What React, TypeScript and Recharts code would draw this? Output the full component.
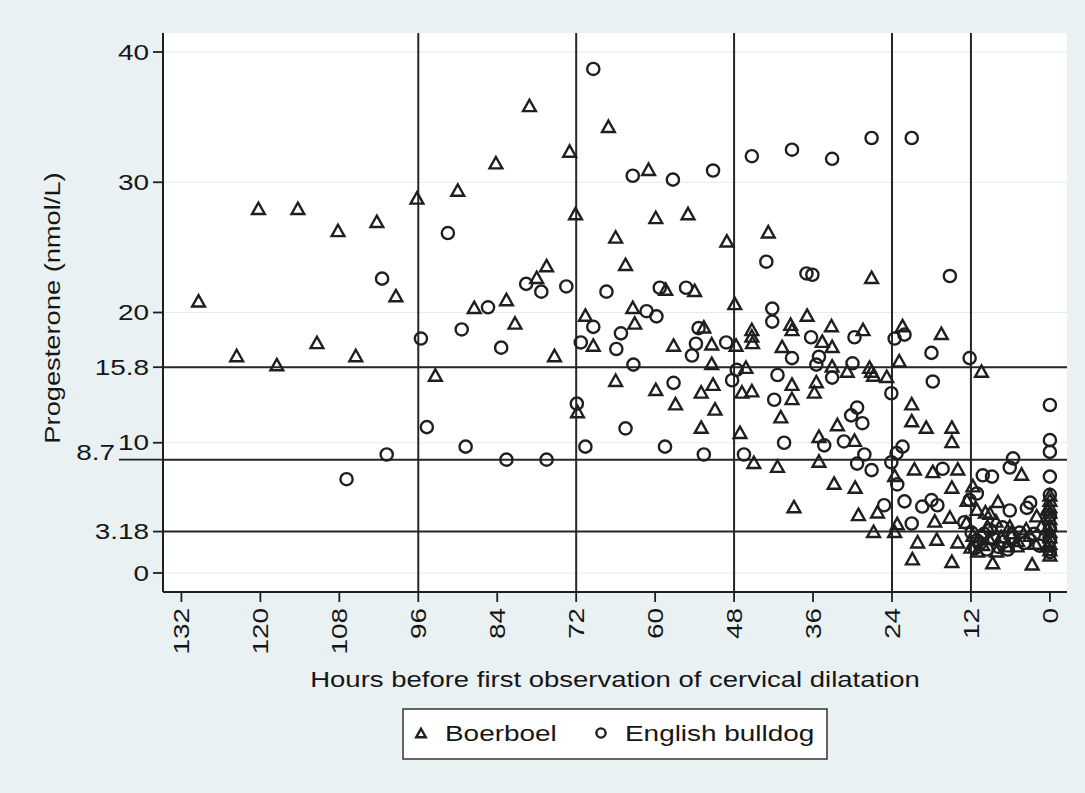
import { ScatterChart, Scatter, XAxis, YAxis, ReferenceLine, CartesianGrid } from 'recharts'

// [hours before dilatation, progesterone nmol/L]
const boerboel: [number, number][] = [
  [129.4, 20.8], [123.6, 16.6], [120.3, 27.9], [117.5, 15.9], [114.3, 27.9], [111.4, 17.6],
  [108.2, 26.2], [105.5, 16.6], [102.3, 26.9], [99.4, 21.2], [96.2, 28.7], [93.4, 15.1],
  [90.0, 29.3], [87.5, 20.3], [84.2, 31.4], [82.6, 20.9], [81.3, 19.1], [79.1, 35.8],
  [78.0, 22.6], [76.5, 23.5], [75.3, 16.6], [73.0, 32.3], [72.1, 27.5], [71.8, 12.3],
  [70.6, 19.7], [69.4, 17.4], [67.1, 34.2], [66.0, 25.7], [66.0, 14.7], [64.5, 23.6],
  [63.4, 20.3], [63.1, 19.1], [61.0, 30.9], [59.9, 27.2], [59.9, 14.0], [58.4, 21.7],
  [57.2, 17.4], [56.9, 12.9], [55.0, 27.5], [54.0, 21.6], [53.0, 13.8], [53.0, 11.1],
  [52.6, 18.8], [51.4, 17.5], [51.4, 16.0], [51.2, 14.4], [50.9, 12.5], [49.1, 25.4],
  [47.9, 20.6], [47.7, 17.4], [47.1, 10.7], [46.8, 13.8], [46.2, 15.7], [45.3, 18.1],
  [45.3, 18.6], [45.2, 17.6], [45.3, 13.9], [45.0, 8.4], [42.8, 26.1], [41.4, 8.1],
  [40.9, 11.9], [40.7, 17.3], [39.2, 18.6], [39.4, 19.0], [39.2, 14.4], [39.2, 13.3],
  [38.9, 5.0], [36.9, 19.7], [35.8, 13.8], [35.5, 14.6], [35.1, 10.4], [35.1, 8.5],
  [34.6, 17.7], [33.2, 18.9], [33.1, 17.3], [33.1, 15.8], [32.8, 6.8], [32.3, 11.3],
  [30.8, 15.4], [29.7, 10.1], [29.6, 6.5], [29.1, 4.4], [28.4, 18.6], [27.1, 22.6],
  [27.1, 15.4], [27.4, 15.7], [26.8, 15.1], [26.8, 3.1], [26.2, 4.6], [24.8, 15.0],
  [23.6, 7.4], [23.6, 3.1], [23.2, 3.7], [22.9, 16.2], [22.4, 18.9], [21.0, 12.9],
  [21.0, 11.6], [20.9, 1.0], [20.6, 7.9], [20.1, 2.3], [18.8, 11.1], [17.8, 7.7],
  [17.5, 3.9], [17.2, 2.5], [16.5, 18.3], [15.2, 4.2], [14.9, 11.1], [14.9, 10.0],
  [14.9, 6.5], [14.9, 0.8], [14.0, 7.9], [14.0, 2.3], [12.7, 3.8], [12.6, 5.5], [12.0, 1.9],
  [11.7, 6.6], [11.7, 2.8], [11.1, 4.8], [11.0, 1.6], [10.4, 15.4], [10.2, 2.1], [9.8, 4.6],
  [9.5, 3.5], [9.3, 2.6], [9.1, 4.5], [8.7, 0.7], [8.2, 3.9], [8.1, 1.6], [7.9, 5.4],
  [7.4, 2.7], [6.6, 2.0], [6.1, 3.5], [5.9, 3.0], [5.0, 2.0], [4.9, 2.4], [4.3, 7.5],
  [3.6, 3.3], [3.0, 2.8], [2.7, 0.6], [2.2, 2.2], [2.0, 4.3], [1.3, 3.5],
  [0.4, 4.8], [0.4, 3.3], [0.4, 2.0],
  [0, 5.9], [0, 5.5], [0, 5.0], [0, 4.6], [0, 4.1], [0, 3.6], [0, 3.1], [0, 2.7], [0, 2.2], [0, 1.7], [0, 1.3],
]

const bulldog: [number, number][] = [
  [106.9, 7.2], [101.5, 22.6], [100.8, 9.1], [95.6, 18.0], [94.7, 11.2], [91.5, 26.1],
  [89.4, 18.7], [88.8, 9.7], [85.4, 20.4], [83.4, 17.3], [82.6, 8.7], [79.6, 22.2],
  [77.3, 21.6], [76.5, 8.7], [73.5, 22.0], [71.9, 13.0], [71.3, 17.7], [70.6, 9.7],
  [69.4, 38.7], [69.4, 18.9], [67.4, 21.6], [65.9, 17.2], [65.2, 18.4], [64.5, 11.1],
  [63.4, 30.5], [63.3, 16.0], [61.3, 20.1], [59.8, 19.7], [59.3, 21.9], [58.5, 9.7],
  [57.3, 30.2], [57.2, 14.6], [55.3, 21.9], [54.4, 16.7], [53.8, 17.6], [53.4, 18.8],
  [52.6, 9.1], [51.2, 30.9], [49.2, 17.7], [48.3, 14.8], [47.6, 15.6], [46.5, 9.1],
  [45.3, 32.0], [43.1, 23.9], [42.2, 20.3], [42.2, 19.3], [41.9, 13.3], [41.4, 15.2],
  [40.4, 10.0], [39.2, 32.5], [39.2, 16.5], [37.0, 23.0], [36.1, 22.9], [36.3, 18.1],
  [35.5, 16.0], [35.1, 16.6], [34.3, 9.8], [33.1, 31.8], [33.1, 15.0], [31.3, 10.1],
  [30.2, 12.1], [30.0, 16.1], [29.7, 18.1], [29.3, 12.7], [29.3, 8.4], [28.5, 11.5],
  [28.2, 9.1], [27.1, 33.4], [27.1, 7.9], [25.2, 5.2], [24.1, 13.8], [24.1, 8.5],
  [23.6, 18.0], [23.3, 9.2], [23.2, 6.8], [22.4, 9.7], [22.1, 18.3], [22.1, 5.5],
  [21.0, 33.4], [21.0, 3.8], [19.4, 5.1], [18.0, 16.9], [18.0, 5.6], [17.8, 14.7],
  [17.1, 5.2], [16.3, 8.0], [15.2, 22.8], [13.0, 3.9], [12.2, 16.5], [12.2, 5.6],
  [11.9, 3.1], [11.4, 1.9], [11.1, 6.1], [11.1, 2.5], [10.6, 2.3], [10.2, 7.5], [10.0, 3.0],
  [9.6, 1.8], [9.1, 3.3], [8.8, 7.4], [8.5, 2.6], [7.8, 2.0], [7.2, 3.5], [7.0, 2.4],
  [6.4, 1.8], [6.1, 8.1], [6.1, 4.8], [5.6, 8.8], [5.5, 2.7], [4.6, 3.1], [3.9, 2.3],
  [3.5, 5.0], [3.0, 5.4], [2.4, 3.0], [1.6, 2.1],
  [0, 12.9], [0, 10.2], [0, 9.3], [0, 7.4], [0, 6.0], [0, 4.4], [0, 3.4], [0, 2.5], [0, 1.6],
]

const xTicks = [132, 120, 108, 96, 84, 72, 60, 48, 36, 24, 12, 0]
const yTicks = [0, 3.18, 8.7, 10, 15.8, 20, 30, 40]
const gridValues = [0, 10, 20, 30, 40]
const hourLines = [96, 72, 48, 24, 12]
const cutoffLines = [15.8, 8.7, 3.18]

const INK = '#1f1f1f'
const TEXT = '#161616'
const FONT = '"Liberation Sans", Arial, Helvetica, sans-serif'
const STRETCH = 1.27

const toPoints = (arr: [number, number][]) => arr.map(([h, p]) => ({ h, p }))

function Triangle({ cx, cy, size = 1 }: any) {
  const w = 6.4 * size
  return (
    <polygon
      points={`${cx},${cy - 7 * size} ${cx + w},${cy + 4.4 * size} ${cx - w},${cy + 4.4 * size}`}
      fill="none"
      stroke={INK}
      strokeWidth={2.4}
    />
  )
}

function Ring({ cx, cy, r = 6.1 }: any) {
  return <circle cx={cx} cy={cy} r={r} fill="none" stroke={INK} strokeWidth={2.4} />
}

function YTick({ x, y, payload }: any) {
  const long = payload.value === 8.7
  const len = long ? 44 : 10
  return (
    <g>
      <line x1={x - len} x2={x} y1={y} y2={y} stroke={INK} strokeWidth={1.8} />
      <g transform={`translate(${x - len - 4},${long ? y - 7 : y}) scale(${STRETCH},1)`}>
        <text x={0} y={0} dy="0.35em" textAnchor="end" fontSize={22} fill={TEXT} fontFamily={FONT}>
          {payload.value}
        </text>
      </g>
    </g>
  )
}

function XTick({ x, y, payload }: any) {
  return (
    <g>
      <line x1={x} x2={x} y1={y} y2={y + 10} stroke={INK} strokeWidth={1.8} />
      <g transform={`translate(${x},${y + 16}) rotate(-90) scale(${STRETCH},1)`}>
        <text x={0} y={0} dy="0.35em" textAnchor="end" fontSize={22} fill={TEXT} fontFamily={FONT}>
          {payload.value}
        </text>
      </g>
    </g>
  )
}

export default function App() {
  return (
    <div style={s.page}>
      <ScatterChart width={1085} height={793} margin={{ top: 33, right: 18, bottom: 141, left: 0 }}>
        <CartesianGrid horizontal={false} vertical={false} fill="#ffffff" />
        <XAxis
          type="number"
          dataKey="h"
          domain={[-2.6, 134.8]}
          reversed
          allowDataOverflow
          ticks={xTicks}
          interval={0}
          height={60}
          tickSize={0}
          tickMargin={0}
          tick={<XTick />}
          axisLine={{ stroke: INK, strokeWidth: 2 }}
          tickLine={false}
        />
        <YAxis
          type="number"
          dataKey="p"
          domain={[-1.46, 41.46]}
          allowDataOverflow
          ticks={yTicks}
          interval={0}
          width={163}
          tickSize={0}
          tickMargin={0}
          tick={<YTick />}
          axisLine={{ stroke: INK, strokeWidth: 2 }}
          tickLine={false}
        />
        {gridValues.map(v => (
          <ReferenceLine key={`g${v}`} y={v} stroke="#e3ebee" strokeWidth={1.2} />
        ))}
        {hourLines.map(h => (
          <ReferenceLine key={`h${h}`} x={h} stroke="#262626" strokeWidth={2} />
        ))}
        {cutoffLines.map(v => (
          <ReferenceLine key={`c${v}`} y={v} stroke="#262626" strokeWidth={2} />
        ))}
        <Scatter data={toPoints(boerboel)} shape={(p: any) => <Triangle cx={p.cx} cy={p.cy} />} isAnimationActive={false} />
        <Scatter data={toPoints(bulldog)} shape={(p: any) => <Ring cx={p.cx} cy={p.cy} />} isAnimationActive={false} />
      </ScatterChart>

      <svg width={1085} height={793} style={s.overlay}>
        {/* axis titles */}
        <g transform={`translate(52,308) rotate(-90) scale(1.24,1)`}>
          <text x={0} y={0} dy="0.35em" textAnchor="middle" fontSize={22} fill={TEXT} fontFamily={FONT}>
            Progesterone (nmol/L)
          </text>
        </g>
        <g transform={`translate(615,679) scale(1.25,1)`}>
          <text x={0} y={0} dy="0.35em" textAnchor="middle" fontSize={22} fill={TEXT} fontFamily={FONT}>
            Hours before first observation of cervical dilatation
          </text>
        </g>

        {/* legend */}
        <rect x={403} y={709} width={424} height={50} fill="#ffffff" stroke="#333" strokeWidth={1.5} />
        <Triangle cx={421} cy={734} size={0.75} />
        <g transform={`translate(445,733) scale(${STRETCH},1)`}>
          <text x={0} y={0} dy="0.35em" fontSize={22} fill={TEXT} fontFamily={FONT}>Boerboel</text>
        </g>
        <Ring cx={601} cy={733} r={4.6} />
        <g transform={`translate(625,733) scale(${STRETCH},1)`}>
          <text x={0} y={0} dy="0.35em" fontSize={22} fill={TEXT} fontFamily={FONT}>English bulldog</text>
        </g>
      </svg>
    </div>
  )
}

const s: Record<string, React.CSSProperties> = {
  page: {
    position: 'absolute',
    left: 0,
    top: 0,
    width: 1085,
    height: 793,
    background: '#eaf1f3',
  },
  overlay: { position: 'absolute', left: 0, top: 0, pointerEvents: 'none' },
}
